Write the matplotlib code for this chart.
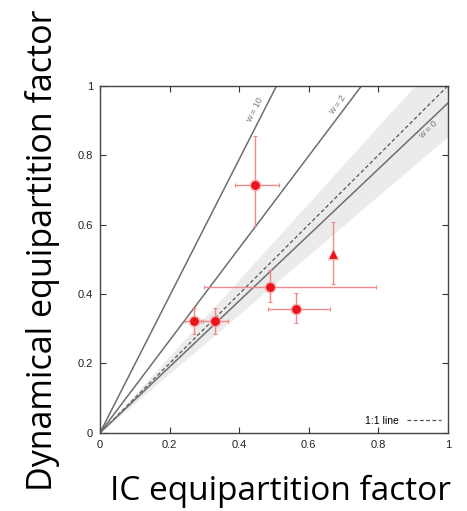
import matplotlib
matplotlib.use("Agg")
import matplotlib.pyplot as plt
import numpy as np

# measured points (IC factor, dynamical factor) with asymmetric errors
ic_x = [0.447, 0.489, 0.564, 0.270, 0.332]
dyn_y = [0.715, 0.419, 0.356, 0.323, 0.323]
x_lo = [0.388, 0.300, 0.482, 0.244, 0.291]
x_hi = [0.515, 0.793, 0.661, 0.297, 0.369]
y_lo = [0.595, 0.376, 0.316, 0.285, 0.285]
y_hi = [0.856, 0.468, 0.403, 0.359, 0.359]

# the triangle point (only vertical error)
tri_x = [0.671]
tri_y = [0.516]
tri_lo = [0.428]
tri_hi = [0.609]

# model lines y = slope * x
line_names = ["w = 10", "w = 2", "w = 0"]
line_slopes = [1.97, 1.33, 0.95]
label_pos = [(0.445, 0.93), (0.684, 0.945), (0.943, 0.873)]
band_slopes = (0.854, 1.105)

ticks = [0, 0.2, 0.4, 0.6, 0.8, 1]
tick_labels = ["0", "0.2", "0.4", "0.6", "0.8", "1"]

fig = plt.figure(figsize=(4.67, 5.11), dpi=100)
ax = fig.add_axes([0.214, 0.153, 0.745, 0.679])

xs = np.array([0.0, 1.0])
ax.fill_between(xs, band_slopes[0] * xs, band_slopes[1] * xs, color="#ebebeb", lw=0, zorder=1)
ax.plot(xs, xs, color="#555555", lw=0.9, ls=(0, (3, 2)), zorder=2, label="1:1 line")
for name, slope, (lx, ly) in zip(line_names, line_slopes, label_pos):
	ax.plot(xs, slope * xs, color="#6e6e6e", lw=1.1, zorder=2)
	angle = np.degrees(np.arctan(slope))
	ax.text(lx, ly, name, rotation=angle, color="#777777", fontsize=6.5,
		ha="center", va="center", family="Liberation Sans", rotation_mode="anchor")

err_col = "#f08a8a"
xerr = [np.array(ic_x) - np.array(x_lo), np.array(x_hi) - np.array(ic_x)]
yerr = [np.array(dyn_y) - np.array(y_lo), np.array(y_hi) - np.array(dyn_y)]
ax.errorbar(ic_x, dyn_y, xerr=xerr, yerr=yerr, fmt="none", ecolor=err_col,
	elinewidth=1.0, capsize=1.5, capthick=0.8, zorder=3)
ax.errorbar(tri_x, tri_y, yerr=[np.array(tri_y) - np.array(tri_lo), np.array(tri_hi) - np.array(tri_y)],
	fmt="none", ecolor=err_col, elinewidth=1.0, capsize=1.5, capthick=0.8, zorder=3)
# halo + marker
ax.scatter(ic_x, dyn_y, s=75, color="#f5a0a0", alpha=0.7, lw=0, zorder=4)
ax.scatter(ic_x, dyn_y, s=40, color="#e8131b", lw=0, zorder=5)
ax.scatter(tri_x, tri_y, s=75, marker="^", color="#f5a0a0", alpha=0.6, lw=0, zorder=4)
ax.scatter(tri_x, tri_y, s=40, marker="^", color="#e8131b", lw=0, zorder=5)

ax.set_xlim(0, 1)
ax.set_ylim(0, 1)
ax.set_xticks(ticks)
ax.set_yticks(ticks)
ax.set_xticklabels(tick_labels)
ax.set_yticklabels(tick_labels)
ax.tick_params(direction="in", top=True, right=True, length=4, width=0.8, color="#333333",
	labelsize=8, pad=5)
for lab in ax.get_xticklabels() + ax.get_yticklabels():
	lab.set_family("Liberation Sans")
	lab.set_color("#222222")
for sp in ax.spines.values():
	sp.set_color("#444444")
	sp.set_linewidth(1.0)

leg = ax.legend(loc="lower right", frameon=False, markerfirst=False, handlelength=3.2,
	prop={"family": "Liberation Sans", "size": 7.5}, borderaxespad=0.3)

fig.text(0.6, 0.005, "IC equipartition factor", fontsize=24, family="Open Sans",
	ha="center", va="bottom", color="black")
fig.text(0.092, 0.511, "Dynamical equipartition factor", fontsize=24.5, family="Open Sans",
	ha="center", va="center", rotation=90, color="black")

plt.savefig("out.png", dpi=100)
plt.close(fig)
